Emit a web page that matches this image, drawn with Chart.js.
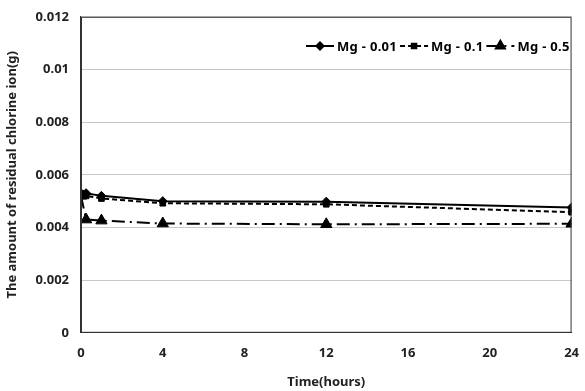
<!DOCTYPE html>
<html>
<head>
<meta charset="utf-8">
<script src="https://cdn.jsdelivr.net/npm/chart.js@4"></script>
<style>
  html, body { margin: 0; padding: 0; background: #fff; overflow: hidden; }
  #wrap { width: 592px; height: 394px; margin-top: -3px; }
</style>
</head>
<body>
<div id="wrap"><canvas id="chart"></canvas></div>
<script>
const hours = [0, 0.25, 1, 4, 12, 24];
const mg001 = [0.0053, 0.0053, 0.0052, 0.0050, 0.00498, 0.00476];
const mg01 = [0.0053, 0.0052, 0.0051, 0.00492, 0.00488, 0.00458];
const mg05 = [0.0052, 0.0043, 0.00426, 0.00415, 0.00412, 0.00414];
const seriesNames = ['Mg - 0.01', 'Mg - 0.1', 'Mg - 0.5'];
const yTicks = ['0', '0.002', '0.004', '0.006', '0.008', '0.01', '0.012'];

const FONT = "'Noto Sans', 'DejaVu Sans', sans-serif";

const toPoints = (vals) => vals.map((v, i) => ({ x: hours[i], y: v }));

const styles = [
  { dash: [], point: 'rectRot', radius: 4.5 },
  { dash: [5, 3], point: 'rect', radius: 4 },
  { dash: [13, 5, 2, 5], point: 'triangle', radius: 6.5 },
];

const frameAndLegend = {
  id: 'frameAndLegend',
  afterDatasetsDraw(chart) {
    const { ctx, chartArea: a } = chart;
    ctx.save();
    ctx.strokeStyle = '#333';
    ctx.lineWidth = 1;
    ctx.strokeRect(a.left + 0.5, a.top + 0.5, a.right - a.left - 1, a.bottom - a.top - 1);

    // legend inside plot, top right
    ctx.font = 'bold 13px ' + FONT;
    ctx.textBaseline = 'middle';
    const y = 49;
    let x = 306;
    chart.data.datasets.forEach((ds, i) => {
      const s = styles[i];
      ctx.strokeStyle = '#000';
      ctx.fillStyle = '#000';
      ctx.lineWidth = 2;
      ctx.setLineDash(s.dash);
      ctx.beginPath();
      ctx.moveTo(x, y);
      ctx.lineTo(x + 28, y);
      ctx.stroke();
      ctx.setLineDash([]);
      Chart.helpers.drawPoint(ctx, { pointStyle: s.point, radius: s.radius * 0.8, rotation: 0, borderWidth: 1 }, x + 14, y);
      ctx.fill();
      ctx.letterSpacing = '0.3px';
      ctx.fillText(ds.label, x + 31, y + 1);
      x += 31 + ctx.measureText(ds.label).width + 3;
      ctx.letterSpacing = '0px';
    });
    ctx.restore();
  },
};

new Chart(document.getElementById('chart'), {
  type: 'line',
  data: {
    datasets: [mg001, mg01, mg05].map((vals, i) => ({
      label: seriesNames[i],
      data: toPoints(vals),
      borderColor: '#000',
      backgroundColor: '#000',
      borderWidth: 2,
      borderDash: styles[i].dash,
      pointStyle: styles[i].point,
      pointRadius: styles[i].radius,
      pointBorderWidth: 1,
      tension: 0,
      fill: false,
    })),
  },
  options: {
    responsive: true,
    maintainAspectRatio: false,
    animation: false,
    layout: {
      padding: { top: 2, right: 0, left: 4, bottom: 1 },
    },
    plugins: {
      legend: { display: false },
      tooltip: { enabled: false },
    },
    scales: {
      x: {
        type: 'linear',
        min: 0,
        max: 24,
        grid: { display: false, drawTicks: false },
        border: { color: '#333' },
        ticks: {
          stepSize: 4,
          padding: 13,
          color: '#222',
          font: { family: FONT, size: 13, weight: 'bold' },
        },
        title: {
          display: true,
          text: 'Time(hours)',
          color: '#222',
          padding: { top: 0, bottom: 0 },
          font: { family: FONT, size: 13, weight: 'bold' },
        },
      },
      y: {
        min: 0,
        max: 0.012,
        grid: { color: '#c8c8c8', lineWidth: 1, drawTicks: false },
        border: { color: '#333' },
        ticks: {
          stepSize: 0.002,
          padding: 12,
          color: '#222',
          font: { family: FONT, size: 13, weight: 'bold' },
          callback: (v, i) => yTicks[i],
        },
        title: {
          display: true,
          text: 'The amount of residual chlorine ion(g)',
          color: '#222',
          padding: { top: 0, bottom: 4 },
          font: { family: FONT, size: 13, weight: 'bold' },
        },
      },
    },
  },
  plugins: [frameAndLegend],
});
</script>
</body>
</html>
